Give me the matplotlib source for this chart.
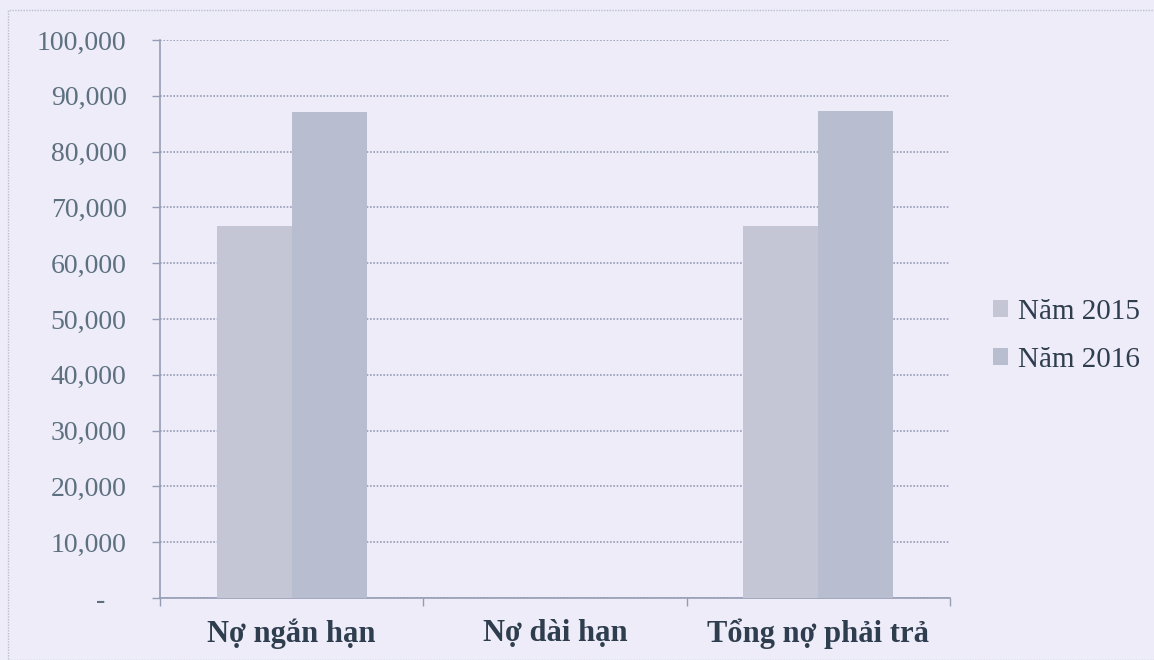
import matplotlib
matplotlib.use("Agg")
import matplotlib.pyplot as plt
import numpy as np
from matplotlib.patches import Rectangle

categories = ["Nợ ngắn hạn", "Nợ dài hạn", "Tổng nợ phải trả"]
series_names = ["Năm 2015", "Năm 2016"]
values_2015 = [66700, 0, 66700]
values_2016 = [87100, 0, 87300]
yticks = [0, 10000, 20000, 30000, 40000, 50000, 60000, 70000, 80000, 90000, 100000]
ytick_labels = ["-   ", "10,000", "20,000", "30,000", "40,000", "50,000",
                "60,000", "70,000", "80,000", "90,000", "100,000"]

BG = "#eeecf9"
C2015 = "#c4c6d6"
C2016 = "#b9bdd0"
GRID = "#959cb4"
YTXT = "#5d7080"
XTXT = "#2f3e4e"

fig = plt.figure(figsize=(11.54, 6.6), dpi=100, facecolor=BG)
ax = fig.add_axes([160/1154, 1-598/660, (950-160)/1154, (598-40)/660])
ax.set_facecolor(BG)

x = np.arange(len(categories))
w = 0.285
ax.bar(x - w/2, values_2015, width=w, color=C2015, label=series_names[0], zorder=3)
ax.bar(x + w/2, values_2016, width=w, color=C2016, label=series_names[1], zorder=3)

ax.set_xlim(-0.5, 2.5)
ax.set_ylim(0, 100000)
ax.set_yticks(yticks)
ax.set_yticklabels(ytick_labels, family="Liberation Serif", fontsize=20, color=YTXT)
ax.set_xticks(x)
ax.set_xticklabels(categories, family="Liberation Serif", fontsize=22,
                   fontweight="bold", color=XTXT)
ax.tick_params(axis="x", length=0, pad=15)
ax.set_xticks([-0.5, 0.5, 1.5, 2.5], minor=True)
ax.tick_params(axis="x", which="minor", length=6, color=GRID, width=1.0, direction="out")
ax.tick_params(axis="y", length=6, color=GRID, width=1.0, pad=18)

ax.grid(axis="y", color=GRID, linestyle=(0, (1, 1)), linewidth=1.2, zorder=0)
for s in ["top", "right"]:
    ax.spines[s].set_visible(False)
for s in ["left", "bottom"]:
    ax.spines[s].set_color(GRID)
    ax.spines[s].set_linestyle((0, (1, 1)))
    ax.spines[s].set_linewidth(1.2)

leg = ax.legend(loc="center left", bbox_to_anchor=(993/1154, 1-336/660),
                bbox_transform=fig.transFigure, frameon=False,
                borderpad=0, borderaxespad=0,
                prop={"family": "Liberation Serif", "size": 21},
                handlelength=0.5, handleheight=0.5, handletextpad=0.35,
                labelspacing=0.75, labelcolor=XTXT)

fig.patches.append(Rectangle((8/1154, 0.0), 1.2, 1-10/660, transform=fig.transFigure,
                             fill=False, edgecolor="#b8bed0", linestyle=(0, (1, 1)),
                             linewidth=1.0))

fig.savefig("out.png", dpi=100, facecolor=BG)
